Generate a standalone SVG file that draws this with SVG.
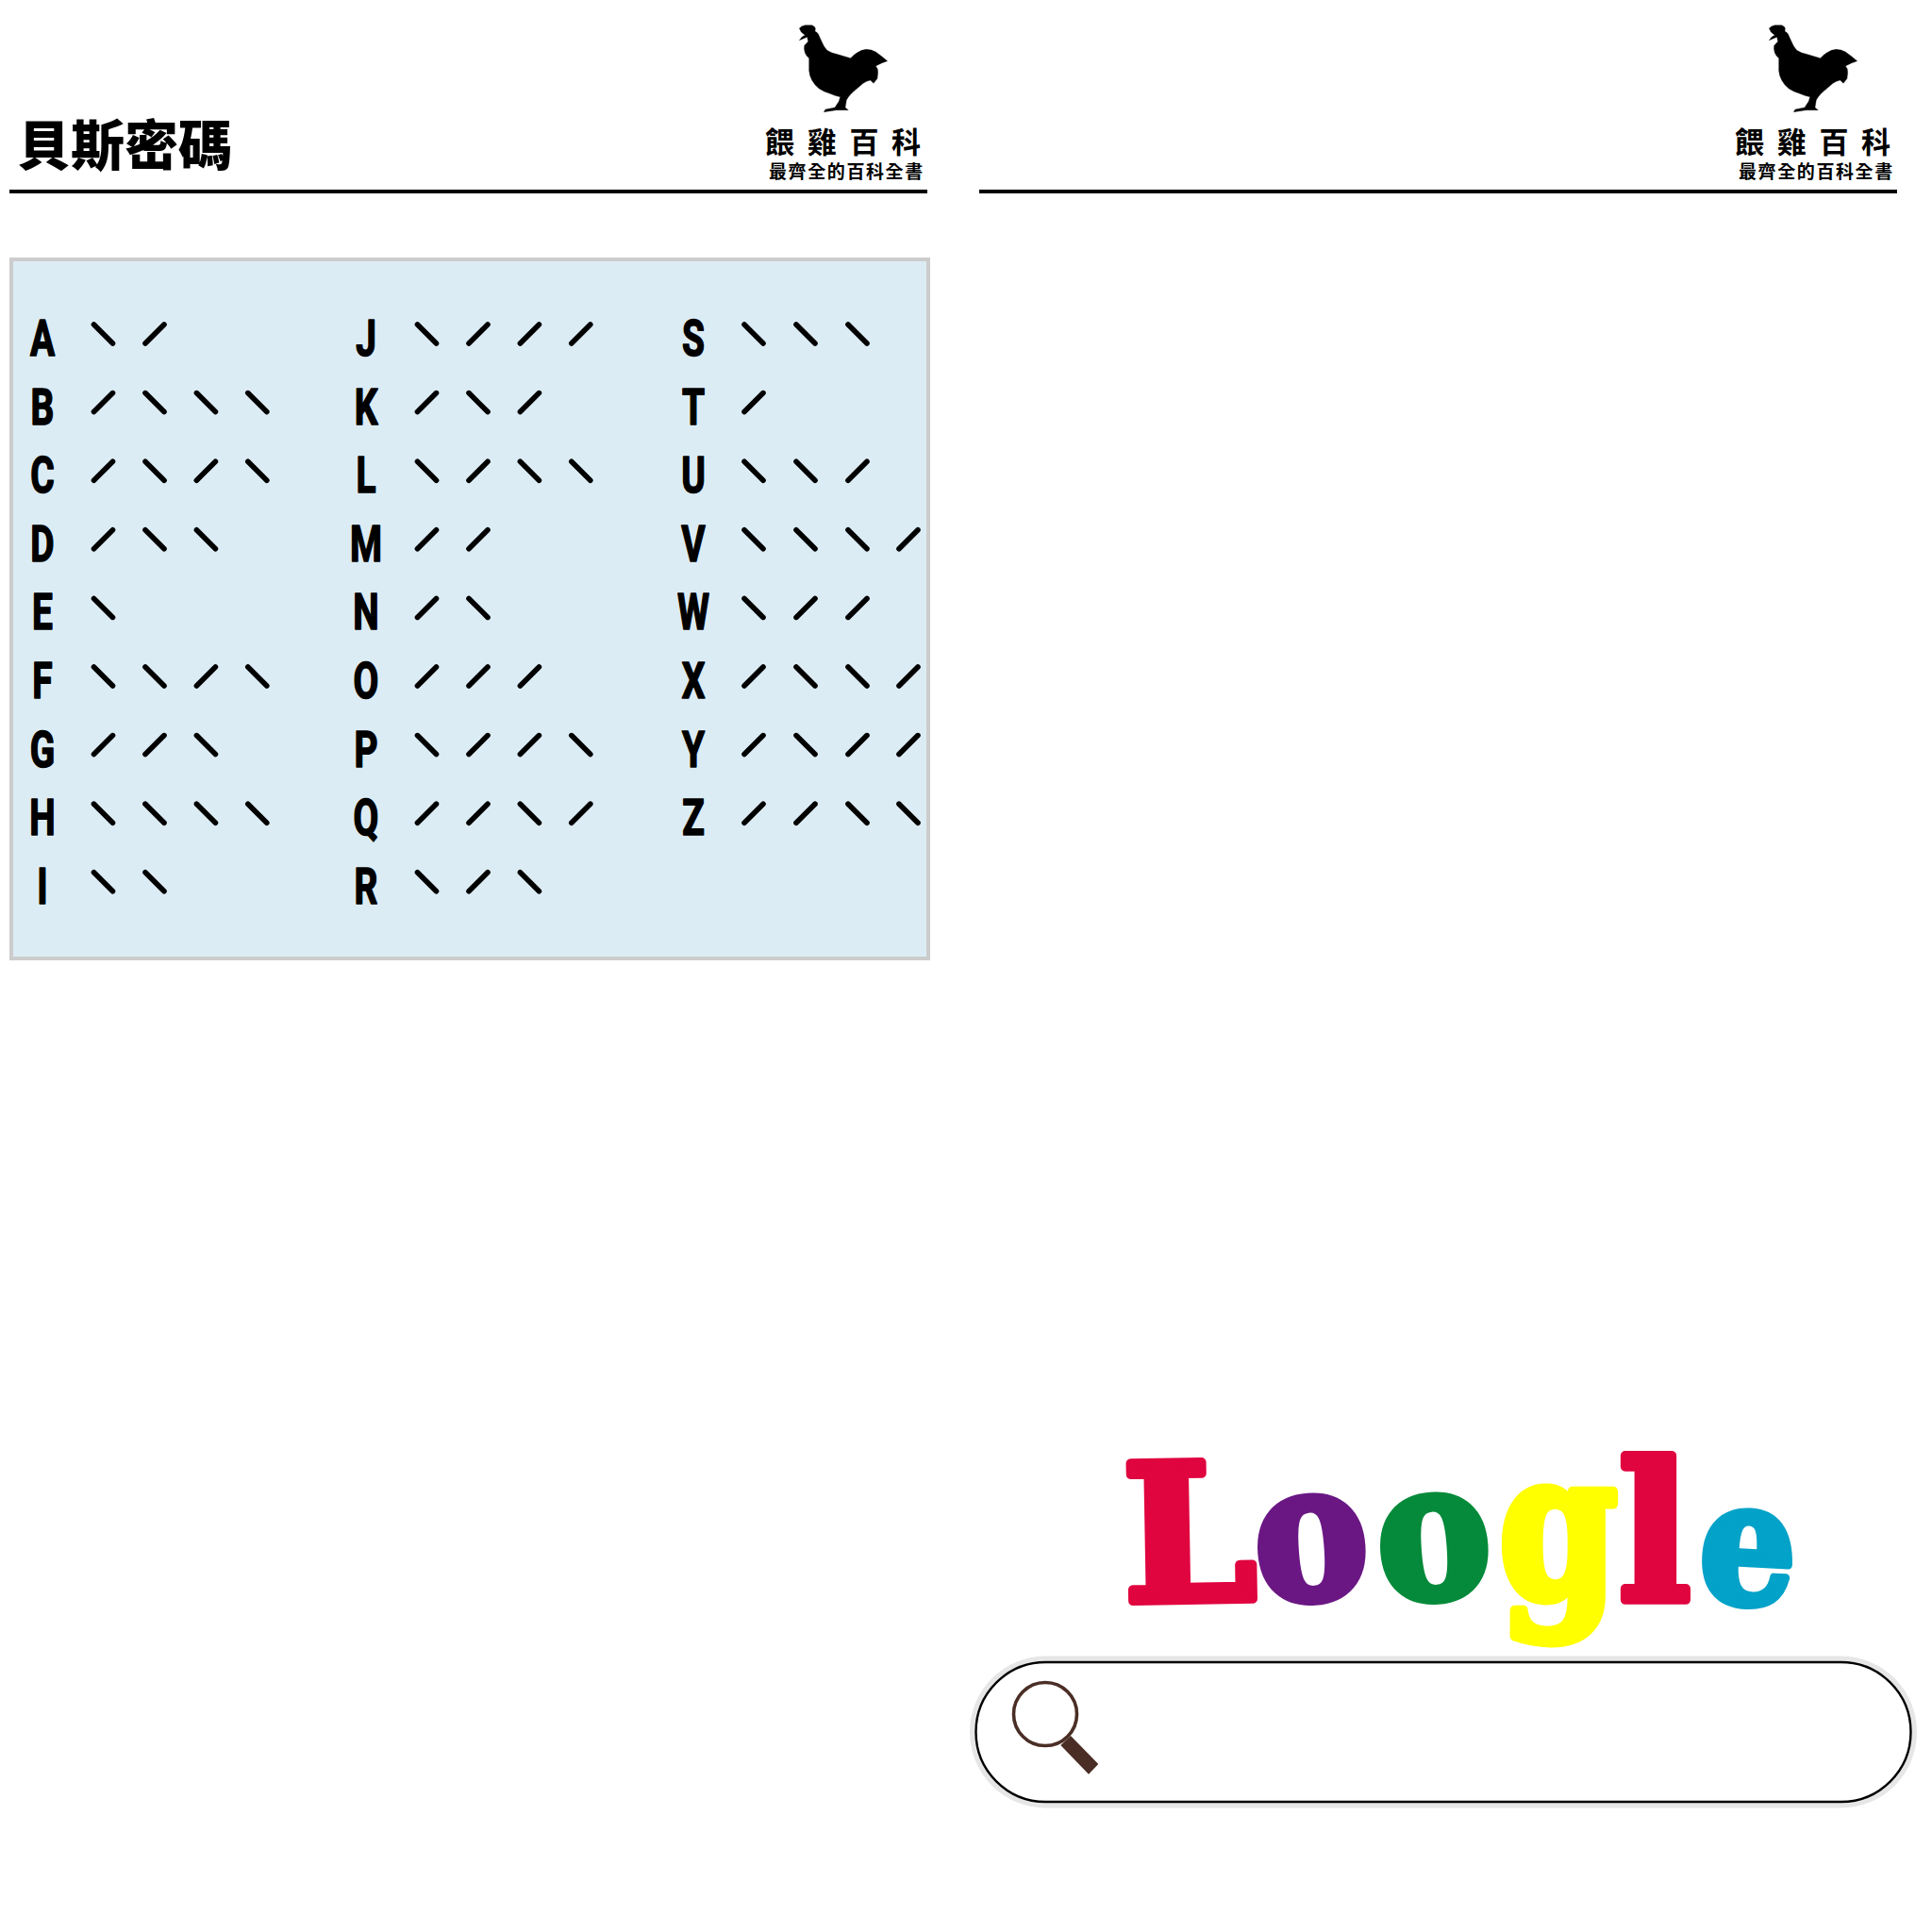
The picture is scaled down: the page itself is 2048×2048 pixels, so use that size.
<svg xmlns="http://www.w3.org/2000/svg" width="2048" height="2048" viewBox="0 0 2048 2048">
<style>
.rule{fill:#000}
.logo1{font:700 31px "Noto Sans CJK TC",sans-serif;letter-spacing:13.7px}
.logo2{font:700 19px "Noto Sans CJK TC",sans-serif;letter-spacing:1.6px}
.title{font:900 57px "Noto Sans CJK TC",sans-serif;letter-spacing:0}
.ltr{font:700 54px Roboto,"Liberation Sans",sans-serif;text-anchor:middle;fill:#000;stroke:#000;stroke-width:1.6;stroke-linejoin:round}
.s{fill:none;stroke:#000;stroke-width:5.6;stroke-linecap:round}
.lg{font:700 200px "DejaVu Serif",serif;text-anchor:middle;stroke-width:10;stroke-linejoin:round}
</style>
<defs>
<path id="b" class="s" d="M-10,-10L10,10"/>
<path id="f" class="s" d="M-10,10L10,-10"/>
<g id="brand">
<path transform="translate(840,20) scale(.3333)" fill="#000" stroke="#000" stroke-width="1" stroke-linejoin="round" d="M22,30Q28,22 40,20L62,20Q72,24 73,30L72,40Q78,42 82,48L92,70Q100,90 110,100Q122,108 140,112L185,125Q195,114 205,108Q220,98 235,97Q252,97 265,105L285,120L302,134L285,140L265,150Q274,160 272,170L270,190L258,205L248,195Q235,198 225,205L205,222Q192,232 185,240Q176,250 172,258L168,282L178,290L140,290L100,296L105,288L135,282L148,262L152,248Q135,245 120,238Q100,232 85,222Q70,210 62,195Q54,180 53,165L53,125Q44,118 40,108Q36,95 38,85L50,72L47,58L22,68L30,58L40,52L28,42Z"/>
<text class="logo1" x="811" y="162">餵雞百科</text>
<text class="logo2" x="815" y="189">最齊全的百科全書</text>
<rect class="rule" x="10" y="201" width="973" height="4"/>
</g>
</defs>
<rect width="2048" height="2048" fill="#fff"/>
<g id="header-left"><use href="#brand"/><text class="title" x="18" y="175">貝斯密碼</text></g>
<g id="header-right"><use href="#brand" x="1028"/></g>
<rect id="cipher-panel" x="12" y="275" width="972" height="741" fill="#dcecf5" stroke="#ccc" stroke-width="4"/>
<g id="cipher-table">
<g id="A"><text class="ltr" transform="translate(45,377) scale(.72,1)">A</text><use href="#b" x="109.5" y="354"/><use href="#f" x="164" y="354"/></g>
<g id="B"><text class="ltr" transform="translate(45,449.6) scale(.72,1)">B</text><use href="#f" x="109.5" y="426.6"/><use href="#b" x="164" y="426.6"/><use href="#b" x="218.4" y="426.6"/><use href="#b" x="272.8" y="426.6"/></g>
<g id="C"><text class="ltr" transform="translate(45,522.2) scale(.72,1)">C</text><use href="#f" x="109.5" y="499.2"/><use href="#b" x="164" y="499.2"/><use href="#f" x="218.4" y="499.2"/><use href="#b" x="272.8" y="499.2"/></g>
<g id="D"><text class="ltr" transform="translate(45,594.8) scale(.72,1)">D</text><use href="#f" x="109.5" y="571.8"/><use href="#b" x="164" y="571.8"/><use href="#b" x="218.4" y="571.8"/></g>
<g id="E"><text class="ltr" transform="translate(45,667.4) scale(.72,1)">E</text><use href="#b" x="109.5" y="644.4"/></g>
<g id="F"><text class="ltr" transform="translate(45,740) scale(.72,1)">F</text><use href="#b" x="109.5" y="717"/><use href="#b" x="164" y="717"/><use href="#f" x="218.4" y="717"/><use href="#b" x="272.8" y="717"/></g>
<g id="G"><text class="ltr" transform="translate(45,812.6) scale(.72,1)">G</text><use href="#f" x="109.5" y="789.6"/><use href="#f" x="164" y="789.6"/><use href="#b" x="218.4" y="789.6"/></g>
<g id="H"><text class="ltr" transform="translate(45,885.2) scale(.72,1)">H</text><use href="#b" x="109.5" y="862.2"/><use href="#b" x="164" y="862.2"/><use href="#b" x="218.4" y="862.2"/><use href="#b" x="272.8" y="862.2"/></g>
<g id="I"><text class="ltr" transform="translate(45,957.8) scale(.72,1)">I</text><use href="#b" x="109.5" y="934.8"/><use href="#b" x="164" y="934.8"/></g>
<g id="J"><text class="ltr" transform="translate(388,377) scale(.72,1)">J</text><use href="#b" x="452.5" y="354"/><use href="#f" x="507" y="354"/><use href="#f" x="561.4" y="354"/><use href="#f" x="615.8" y="354"/></g>
<g id="K"><text class="ltr" transform="translate(388,449.6) scale(.72,1)">K</text><use href="#f" x="452.5" y="426.6"/><use href="#b" x="507" y="426.6"/><use href="#f" x="561.4" y="426.6"/></g>
<g id="L"><text class="ltr" transform="translate(388,522.2) scale(.72,1)">L</text><use href="#b" x="452.5" y="499.2"/><use href="#f" x="507" y="499.2"/><use href="#b" x="561.4" y="499.2"/><use href="#b" x="615.8" y="499.2"/></g>
<g id="M"><text class="ltr" transform="translate(388,594.8) scale(.72,1)">M</text><use href="#f" x="452.5" y="571.8"/><use href="#f" x="507" y="571.8"/></g>
<g id="N"><text class="ltr" transform="translate(388,667.4) scale(.72,1)">N</text><use href="#f" x="452.5" y="644.4"/><use href="#b" x="507" y="644.4"/></g>
<g id="O"><text class="ltr" transform="translate(388,740) scale(.72,1)">O</text><use href="#f" x="452.5" y="717"/><use href="#f" x="507" y="717"/><use href="#f" x="561.4" y="717"/></g>
<g id="P"><text class="ltr" transform="translate(388,812.6) scale(.72,1)">P</text><use href="#b" x="452.5" y="789.6"/><use href="#f" x="507" y="789.6"/><use href="#f" x="561.4" y="789.6"/><use href="#b" x="615.8" y="789.6"/></g>
<g id="Q"><text class="ltr" transform="translate(388,885.2) scale(.72,1)">Q</text><use href="#f" x="452.5" y="862.2"/><use href="#f" x="507" y="862.2"/><use href="#b" x="561.4" y="862.2"/><use href="#f" x="615.8" y="862.2"/></g>
<g id="R"><text class="ltr" transform="translate(388,957.8) scale(.72,1)">R</text><use href="#b" x="452.5" y="934.8"/><use href="#f" x="507" y="934.8"/><use href="#b" x="561.4" y="934.8"/></g>
<g id="S"><text class="ltr" transform="translate(735,377) scale(.72,1)">S</text><use href="#b" x="799" y="354"/><use href="#b" x="854" y="354"/><use href="#b" x="909" y="354"/></g>
<g id="T"><text class="ltr" transform="translate(735,449.6) scale(.72,1)">T</text><use href="#f" x="799" y="426.6"/></g>
<g id="U"><text class="ltr" transform="translate(735,522.2) scale(.72,1)">U</text><use href="#b" x="799" y="499.2"/><use href="#b" x="854" y="499.2"/><use href="#f" x="909" y="499.2"/></g>
<g id="V"><text class="ltr" transform="translate(735,594.8) scale(.72,1)">V</text><use href="#b" x="799" y="571.8"/><use href="#b" x="854" y="571.8"/><use href="#b" x="909" y="571.8"/><use href="#f" x="963" y="571.8"/></g>
<g id="W"><text class="ltr" transform="translate(735,667.4) scale(.72,1)">W</text><use href="#b" x="799" y="644.4"/><use href="#f" x="854" y="644.4"/><use href="#f" x="909" y="644.4"/></g>
<g id="X"><text class="ltr" transform="translate(735,740) scale(.72,1)">X</text><use href="#f" x="799" y="717"/><use href="#b" x="854" y="717"/><use href="#b" x="909" y="717"/><use href="#f" x="963" y="717"/></g>
<g id="Y"><text class="ltr" transform="translate(735,812.6) scale(.72,1)">Y</text><use href="#f" x="799" y="789.6"/><use href="#b" x="854" y="789.6"/><use href="#f" x="909" y="789.6"/><use href="#f" x="963" y="789.6"/></g>
<g id="Z"><text class="ltr" transform="translate(735,885.2) scale(.72,1)">Z</text><use href="#f" x="799" y="862.2"/><use href="#f" x="854" y="862.2"/><use href="#b" x="909" y="862.2"/><use href="#b" x="963" y="862.2"/></g>
</g>
<g id="loogle">
<text class="lg" fill="#e0043f" stroke="#e0043f" transform="translate(1262,1696) rotate(-1)">L</text>
<text class="lg" fill="#6a1784" stroke="#6a1784" transform="translate(1394,1694) rotate(-4) scale(.9,1)">o</text>
<text class="lg" fill="#048a3a" stroke="#048a3a" transform="translate(1524,1693) rotate(-4) scale(.9,1)">o</text>
<text class="lg" fill="#ffff00" stroke="#ffff00" transform="translate(1652,1693) scale(.9,1.08)">g</text>
<text class="lg" fill="#e0043f" stroke="#e0043f" transform="translate(1754,1695) scale(1,1)">l</text>
<text class="lg" fill="#03a2c8" stroke="#03a2c8" transform="translate(1850,1699) rotate(3) scale(.8,.9)">e</text>
</g>
<g id="search">
<rect x="1034.5" y="1762" width="991" height="148" rx="74" fill="#fff" stroke="#e6e6e6" stroke-width="13"/>
<rect x="1034.5" y="1762" width="991" height="148" rx="74" fill="#fff" stroke="#000" stroke-width="2.4"/>
<circle cx="1108" cy="1817" r="33.5" fill="none" stroke="#4a2e25" stroke-width="3.6"/>
<polygon points="1124.3,1850 1135,1840 1164.3,1870 1154,1880.7" fill="#4a2e25"/>
</g>
</svg>
